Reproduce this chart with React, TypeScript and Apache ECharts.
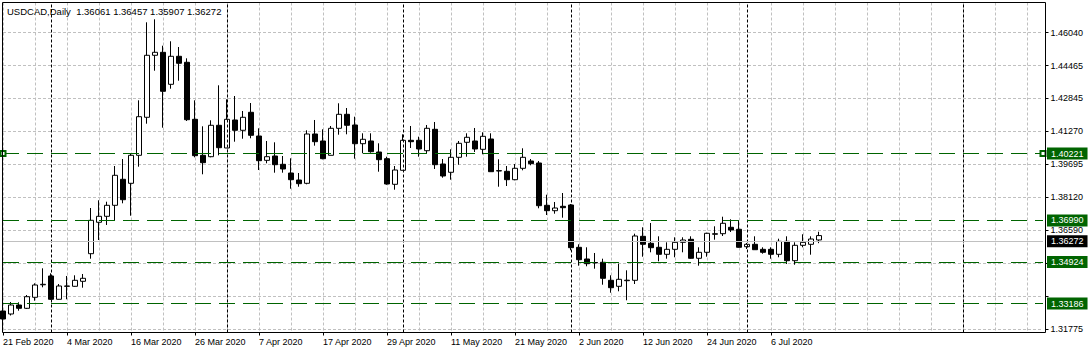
import React, { useEffect, useRef } from 'react';
import * as echarts from 'echarts';

// ---------- data ----------
const symbolName = 'USDCAD,Daily';
const firstTradingDay = '2020-02-21';

const opens = [
  1.32641, 1.32497, 1.3293, 1.32771, 1.33301, 1.33903, 1.34327, 1.33205, 1.3383, 1.3383,
  1.34071, 1.354, 1.36912, 1.372, 1.3773, 1.38982, 1.38789, 1.40137, 1.41967, 1.44952,
  1.45096, 1.43555, 1.44904, 1.44615, 1.4187, 1.40137, 1.4007, 1.41582, 1.40489, 1.41837,
  1.41341, 1.42208, 1.41066, 1.39895, 1.40104, 1.39704, 1.39285, 1.38948, 1.38789, 1.41163,
  1.40826, 1.40137, 1.41437, 1.42111, 1.41596, 1.40696, 1.40826, 1.40296, 1.39974, 1.38741,
  1.39415, 1.40859, 1.40859, 1.40359, 1.41389, 1.39718, 1.39319, 1.40041, 1.40763, 1.40826,
  1.40426, 1.40922, 1.39381, 1.39367, 1.38963, 1.39511, 1.39863, 1.39767, 1.3773, 1.3747,
  1.37682, 1.37745, 1.35708, 1.35145, 1.34976, 1.34986, 1.34119, 1.3383, 1.341, 1.34119,
  1.36237, 1.359, 1.35708, 1.35371, 1.35611, 1.35948, 1.36093, 1.35179, 1.35467, 1.36334,
  1.36363, 1.36671, 1.36575, 1.35737, 1.35852, 1.35611, 1.35611, 1.35371, 1.35996, 1.35063,
  1.35804, 1.35852, 1.36061,
];
const closes = [
  1.32256, 1.3293, 1.32771, 1.3333, 1.33893, 1.33927, 1.33205, 1.33845, 1.33845, 1.34119,
  1.34215, 1.37008, 1.372, 1.3773, 1.39174, 1.37999, 1.40137, 1.41996, 1.44952, 1.45096,
  1.43218, 1.44904, 1.44567, 1.41851, 1.40118, 1.39781, 1.41582, 1.40503, 1.4187, 1.41341,
  1.41967, 1.411, 1.39877, 1.4007, 1.39685, 1.39478, 1.38963, 1.3877, 1.41163, 1.40792,
  1.39974, 1.41437, 1.42111, 1.41582, 1.40696, 1.40908, 1.40311, 1.39926, 1.38755, 1.39429,
  1.40859, 1.40792, 1.40441, 1.41437, 1.39685, 1.39141, 1.40041, 1.40715, 1.41004, 1.40441,
  1.41052, 1.39348, 1.394, 1.38963, 1.39511, 1.40041, 1.39733, 1.37711, 1.3747, 1.376,
  1.37615, 1.35689, 1.35111, 1.34919, 1.34957, 1.34215, 1.33763, 1.34167, 1.34124, 1.36252,
  1.35852, 1.35689, 1.35371, 1.35611, 1.35948, 1.36059, 1.35179, 1.35467, 1.36382, 1.36363,
  1.36864, 1.36541, 1.35708, 1.35852, 1.35592, 1.35467, 1.35371, 1.35996, 1.35063, 1.35804,
  1.35948, 1.36107, 1.36272,
];
const lows = [
  1.31967, 1.32425, 1.32656, 1.32737, 1.33137, 1.33782, 1.33171, 1.33195, 1.33205, 1.33811,
  1.33763, 1.35159, 1.36059, 1.36782, 1.37008, 1.37826, 1.37229, 1.39589, 1.41659, 1.4421,
  1.41466, 1.43344, 1.43729, 1.41789, 1.40041, 1.39223, 1.40041, 1.40137, 1.40489, 1.40792,
  1.40936, 1.40956, 1.39429, 1.39752, 1.393, 1.393, 1.38529, 1.38625, 1.38741, 1.406,
  1.39945, 1.40137, 1.41129, 1.41148, 1.39974, 1.40234, 1.40262, 1.39348, 1.38722, 1.38481,
  1.39415, 1.40489, 1.4007, 1.40248, 1.39478, 1.39059, 1.38963, 1.39685, 1.4007, 1.40296,
  1.40186, 1.39348, 1.38625, 1.38659, 1.38934, 1.39415, 1.39656, 1.37586, 1.37263, 1.37326,
  1.37133, 1.35564, 1.34822, 1.34793, 1.34678, 1.33907, 1.33522, 1.3359, 1.33157, 1.33941,
  1.35256, 1.35467, 1.35034, 1.35159, 1.35227, 1.35467, 1.35159, 1.34822, 1.35256, 1.36074,
  1.36252, 1.36445, 1.35689, 1.35626, 1.35592, 1.354, 1.35159, 1.35227, 1.34904, 1.3487,
  1.35708, 1.35352, 1.35907,
];
const highs = [
  1.32737, 1.33075, 1.3306, 1.33411, 1.33974, 1.34696, 1.34456, 1.33941, 1.34327, 1.3436,
  1.34423, 1.376, 1.37971, 1.37903, 1.39622, 1.39959, 1.40233, 1.42785, 1.4654, 1.46685,
  1.45414, 1.45626, 1.45351, 1.44807, 1.42785, 1.41533, 1.41822, 1.43507, 1.42833, 1.42992,
  1.4227, 1.42655, 1.41437, 1.40826, 1.40763, 1.40104, 1.39993, 1.39285, 1.41341, 1.41837,
  1.41389, 1.41548, 1.42641, 1.42414, 1.41996, 1.41196, 1.41196, 1.40715, 1.4007, 1.39622,
  1.41148, 1.41548, 1.41034, 1.41596, 1.41741, 1.39959, 1.40426, 1.40826, 1.41196, 1.41452,
  1.41245, 1.41196, 1.39945, 1.39622, 1.39718, 1.40474, 1.39959, 1.39863, 1.3824, 1.37889,
  1.38322, 1.37793, 1.35852, 1.35708, 1.35434, 1.35159, 1.3436, 1.34919, 1.346, 1.36363,
  1.36671, 1.36878, 1.36237, 1.35948, 1.36189, 1.36189, 1.36237, 1.35708, 1.36411, 1.36719,
  1.37181, 1.37056, 1.37008, 1.35915, 1.36237, 1.35708, 1.35708, 1.36122, 1.36237, 1.35948,
  1.36334, 1.36237, 1.36457,
];

// empty future slots shown to the right of the last bar
const futureSlots = 28;
// bar indices where a new month starts (period separators)
const monthStarts = [6, 28, 50, 71, 93, 120];

// horizontal levels
const pivotLevel = 1.40221;
const upperLevel = 1.3699;
const lowerLevels = [1.34924, 1.33186];

// price scale tick labels (bottom to top); two are hidden behind level boxes
const yTickLabels = ['1.31775', '', '', '1.36590', '1.38120', '1.39695', '1.41270', '1.42845', '1.44465', '1.46040'];
const yTickBase = 1.31775;
const yTickStep = 0.015854;
const yMin = 1.316061;
const yMax = 1.474936;

// ---------- helpers ----------
const MONTHS = ['Jan', 'Feb', 'Mar', 'Apr', 'May', 'Jun', 'Jul', 'Aug', 'Sep', 'Oct', 'Nov', 'Dec'];
function tradingDays(start: string, n: number): string[] {
  const d = new Date(start + 'T00:00:00Z');
  const out: string[] = [];
  while (out.length < n) {
    const wd = d.getUTCDay();
    if (wd !== 0 && wd !== 6) out.push(`${d.getUTCDate()} ${MONTHS[d.getUTCMonth()]} ${d.getUTCFullYear()}`);
    d.setUTCDate(d.getUTCDate() + 1);
  }
  return out;
}

const FONT = "'Liberation Sans', Arial, sans-serif";
const GREEN = '#006400';

export default function App() {
  const ref = useRef<HTMLDivElement>(null);

  useEffect(() => {
    const n = opens.length;
    const dates = tradingDays(firstTradingDay, n);
    const categories = [...dates];
    for (let i = 0; i < futureSlots; i++) categories.push(`future-${i}`);
    const lastIdx = categories.length - 1;

    const candleData = opens.map((o, i) => [o, closes[i], lows[i], highs[i]]);
    const yTickValues = yTickLabels.map((_, k) => +(yTickBase + k * yTickStep).toFixed(6));

    const boxLabel = (text: string, bg: string) => ({
      show: true,
      position: 'end',
      distance: 4,
      formatter: text,
      color: '#fff',
      backgroundColor: bg,
      fontFamily: FONT,
      fontSize: 9,
      lineHeight: 10,
      padding: [1, 4, 1, 4],
    });

    const greenDash = () => ({ color: GREEN, type: [16, 8], width: 1, opacity: 1 });

    const markData: any[] = [
      ...monthStarts.map((idx) => ({
        xAxis: idx,
        lineStyle: { color: '#000', type: [3, 2], width: 1 },
        label: { show: false },
      })),
      [
        {
          coord: [0, pivotLevel],
          symbol: 'emptyRect',
          symbolSize: 5,
          lineStyle: greenDash(),
          itemStyle: { color: GREEN },
          label: boxLabel(pivotLevel.toFixed(5), GREEN),
        },
        {
          coord: [lastIdx, pivotLevel],
          symbol: 'emptyRect',
          symbolSize: 5,
          lineStyle: greenDash(),
          itemStyle: { color: GREEN },
        },
      ],
      { yAxis: upperLevel, lineStyle: greenDash(), label: boxLabel(upperLevel.toFixed(5), GREEN) },
      ...lowerLevels.map((v) => ({ yAxis: v, lineStyle: greenDash(), label: boxLabel(v.toFixed(5), GREEN) })),
      {
        yAxis: closes[n - 1],
        lineStyle: { color: '#c0c0c0', type: 'solid', width: 1 },
        label: boxLabel(closes[n - 1].toFixed(5), '#000'),
      },
    ];

    const title = `${symbolName}  ${opens[n - 1].toFixed(5)} ${highs[n - 1].toFixed(5)} ${lows[n - 1].toFixed(5)} ${closes[n - 1].toFixed(5)}`;

    const showIdx = (idx: number) => idx % 8 === 0 && idx < n;

    const option: any = {
      animation: false,
      backgroundColor: '#fff',
      textStyle: { fontFamily: FONT },
      grid: { left: 3, top: 2.5, width: 1040, height: 330, containLabel: false },
      xAxis: {
        type: 'category',
        data: categories,
        boundaryGap: false,
        axisLine: { show: false },
        axisTick: {
          show: true,
          length: 3,
          interval: (idx: number) => showIdx(idx),
          lineStyle: { color: '#000', width: 1 },
        },
        axisLabel: {
          show: true,
          interval: (idx: number) => showIdx(idx),
          formatter: (v: string, idx: number) => (idx < n ? v : ''),
          align: 'left',
          margin: 5,
          color: '#000',
          fontFamily: FONT,
          fontSize: 9,
        },
        splitLine: {
          show: true,
          interval: 3,
          lineStyle: { color: '#c0c0c0', type: [3, 2], width: 1 },
        },
      },
      yAxis: {
        type: 'value',
        position: 'right',
        offset: 2.5,
        min: yMin,
        max: yMax,
        scale: true,
        axisLine: { show: false },
        axisTick: {
          show: true,
          length: 3,
          customValues: yTickValues,
          lineStyle: { color: '#000', width: 1 },
        },
        axisLabel: {
          show: true,
          customValues: yTickValues,
          formatter: (v: number) => yTickLabels[Math.round((v - yTickBase) / yTickStep)] ?? '',
          margin: 5,
          color: '#000',
          fontFamily: FONT,
          fontSize: 9,
        },
        splitLine: {
          show: true,
          lineStyle: { color: '#c0c0c0', type: [3, 2], width: 1 },
        },
      },
      series: [
        {
          type: 'candlestick',
          data: candleData,
          barWidth: 5,
          itemStyle: {
            color: '#fff',
            color0: '#000',
            borderColor: '#000',
            borderColor0: '#000',
            borderWidth: 1,
          },
          markLine: {
            silent: true,
            symbol: 'none',
            animation: false,
            label: { show: false },
            data: markData,
          },
        },
      ],
      graphic: [
        {
          type: 'rect',
          silent: true,
          z: 100,
          shape: { x: 2.5, y: 2.5, width: 1043, height: 330 },
          style: { fill: 'none', stroke: '#000', lineWidth: 1 },
        },
        {
          type: 'text',
          silent: true,
          z: 100,
          x: 7,
          y: 11,
          style: { text: title, fontFamily: FONT, fontSize: 9.5, fill: '#000', verticalAlign: 'middle' },
        },
      ],
    };

    const chart = echarts.init(ref.current!, null, { renderer: 'svg' });
    chart.setOption(option);
    return () => chart.dispose();
  }, []);

  return (
    <div
      ref={ref}
      style={{ position: 'fixed', left: 0, top: 0, width: 1091, height: 353, background: '#fff' }}
    />
  );
}
